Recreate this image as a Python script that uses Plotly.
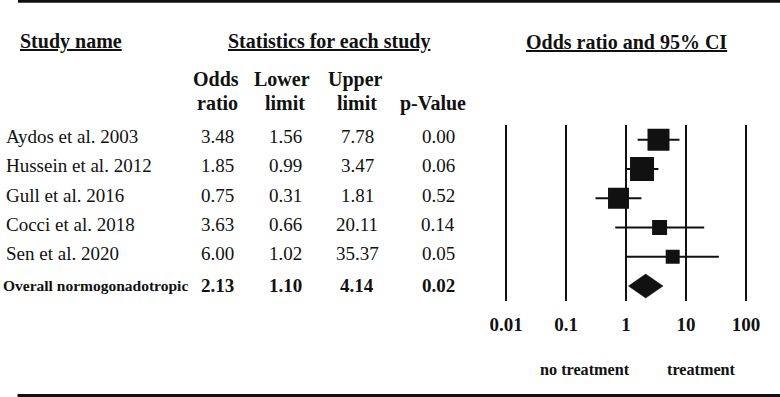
import plotly.graph_objects as go
import numpy as np

# ---------------- data ----------------
studies = ["Aydos et al. 2003", "Hussein et al. 2012", "Gull et al. 2016",
           "Cocci et al. 2018", "Sen et al. 2020"]
odds_ratio = [3.48, 1.85, 0.75, 3.63, 6.00]
lower_limit = [1.56, 0.99, 0.31, 0.66, 1.02]
upper_limit = [7.78, 3.47, 1.81, 20.11, 35.37]
p_value = [0.00, 0.06, 0.52, 0.14, 0.05]
rel_weight = [25.2, 30.0, 22.9, 11.7, 10.2]   # relative weight (%), drives box area

overall_label = "Overall normogonadotropic"
overall_or = 2.13
overall_lo = 1.10
overall_hi = 4.14
overall_p = 0.02

tick_vals = [0.01, 0.1, 1, 10, 100]
tick_text = ["0.01", "0.1", "1", "10", "100"]
favours_left = "no treatment"
favours_right = "treatment"

# ---------------- layout helpers ----------------
W, H = 780, 397
FONT = "Liberation Serif, Times New Roman, serif"
INK = "#111111"


def px(x):
    return x / W


def py(y):
    return 1 - y / H


rows = list(range(len(studies)))
overall_row = len(studies)

fig = go.Figure()

# confidence interval whiskers
ci_x, ci_y = [], []
for r, lo, hi in zip(rows, lower_limit, upper_limit):
    ci_x += [lo, hi, None]
    ci_y += [r, r, None]
fig.add_trace(go.Scatter(x=ci_x, y=ci_y, mode="lines",
                         line=dict(color=INK, width=2), hoverinfo="skip",
                         showlegend=False))

# study boxes (area proportional to weight)
sizes = [4.38 * np.sqrt(w) for w in rel_weight]
fig.add_trace(go.Scatter(x=odds_ratio, y=rows, mode="markers",
                         marker=dict(symbol="square", size=sizes, color=INK,
                                     opacity=1, line=dict(width=0)),
                         showlegend=False))

# overall diamond
dh = 0.41
fig.add_trace(go.Scatter(
    x=[overall_lo, overall_or, overall_hi, overall_or, overall_lo],
    y=[overall_row, overall_row - dh, overall_row, overall_row + dh, overall_row],
    mode="lines", fill="toself", fillcolor=INK, line=dict(color=INK, width=0.5),
    showlegend=False))

ann = []


def text(x, y, s, size=19, bold=False, xanchor="center", xref="paper", yref="paper", yshift=0):
    ann.append(dict(x=x, y=y, xref=xref, yref=yref, text=s, showarrow=False,
                    xanchor=xanchor, yanchor="middle", yshift=yshift,
                    font=dict(family=FONT, size=size, color=INK,
                              weight="bold" if bold else "normal")))


# headers
text(px(18), py(42), "<u>Study name</u>", size=20, bold=True, xanchor="left")
text(px(329), py(42), "<u>Statistics for each study</u>", size=20, bold=True)
text(px(626.7), py(42), "<u>Odds ratio and 95% CI</u>", size=20, bold=True)
text(px(216), py(79), "Odds", size=20, bold=True)
text(px(217), py(103), "ratio", size=20, bold=True)
text(px(282), py(79), "Lower", size=20, bold=True)
text(px(285), py(103), "limit", size=20, bold=True)
text(px(355), py(79), "Upper", size=20, bold=True)
text(px(357), py(103), "limit", size=20, bold=True)
text(px(432.5), py(103), "p-Value", size=20, bold=True)

col_x = [px(217), px(285), px(357), px(438)]
for r, name, o, lo, hi, p in zip(rows, studies, odds_ratio, lower_limit, upper_limit, p_value):
    text(px(4), r, name, xanchor="left", yref="y", yshift=3)
    for cx, v in zip(col_x, [o, lo, hi, p]):
        text(cx, r, f"{v:.2f}", yref="y", yshift=3)

text(px(1), overall_row, overall_label, size=15.5, bold=True, xanchor="left", yref="y", yshift=1)
for cx, v in zip(col_x, [overall_or, overall_lo, overall_hi, overall_p]):
    text(cx, overall_row, f"{v:.2f}", bold=True, yref="y", yshift=1)

text(px(584.7), py(370), favours_left, size=16.2, bold=True)
text(px(701.7), py(370), favours_right, size=16.2, bold=True)

# rules
shapes = [
    dict(type="line", xref="paper", yref="paper", x0=px(18), x1=1, y0=py(1.3), y1=py(1.3),
         line=dict(color=INK, width=3)),
    dict(type="line", xref="paper", yref="paper", x0=px(17.5), x1=1, y0=py(395.5), y1=py(395.5),
         line=dict(color=INK, width=3)),
]

fig.update_layout(
    width=W, height=H, margin=dict(l=0, r=0, t=0, b=0, pad=0),
    paper_bgcolor="white", plot_bgcolor="white",
    annotations=ann, shapes=shapes, showlegend=False,
    xaxis=dict(type="log", domain=[px(490), px(770)],
               range=[-136 / 60, 144 / 60],
               tickmode="array", tickvals=tick_vals, ticktext=tick_text,
               tickfont=dict(family=FONT, size=19, color=INK, weight="bold"),
               showgrid=True, gridcolor=INK, gridwidth=2,
               zeroline=False, showline=False,
               ticks="outside", ticklen=6, tickcolor="rgba(0,0,0,0)"),
    yaxis=dict(domain=[py(300.7), py(125)], range=[5.5, -0.5],
               showgrid=False, zeroline=False, showticklabels=False,
               showline=False, ticks=""),
)

fig.write_html("out.html", config={"displayModeBar": False},
               post_script="document.body.style.margin='0';document.body.style.overflow='hidden';")
